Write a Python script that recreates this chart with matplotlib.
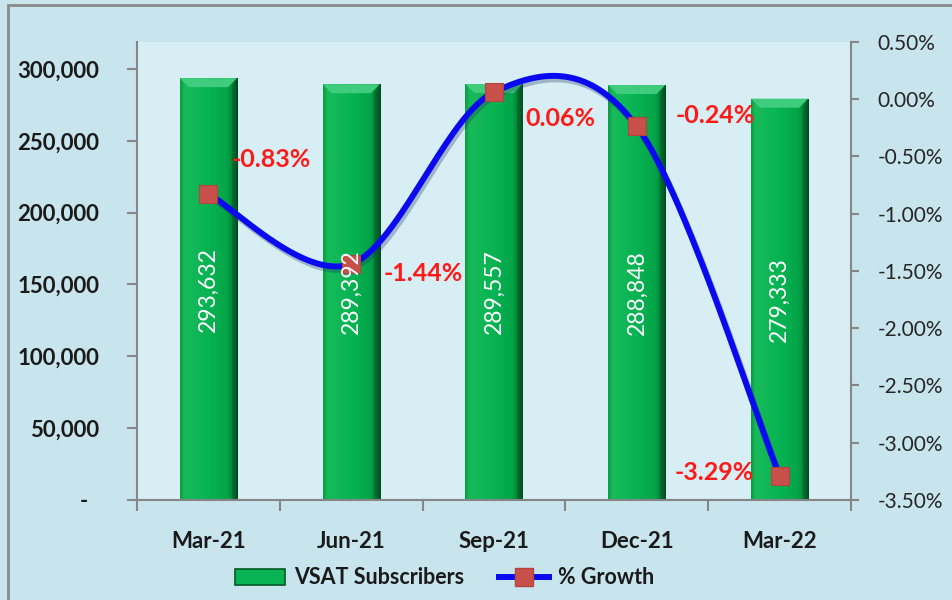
import numpy as np
import matplotlib.pyplot as plt
import matplotlib.patheffects as pe
from matplotlib.colors import LinearSegmentedColormap
from matplotlib.patches import Patch, Polygon, Rectangle
from matplotlib.lines import Line2D
from matplotlib.ticker import FixedLocator, FuncFormatter

plt.rcParams['font.family'] = ['Lato', 'DejaVu Sans']

# data
quarters = ['Mar-21', 'Jun-21', 'Sep-21', 'Dec-21', 'Mar-22']
subscribers = [293632, 289392, 289557, 288848, 279333]
growth = [-0.83, -1.44, 0.06, -0.24, -3.29]
growth_labels = ['-0.83%', '-1.44%', '0.06%', '-0.24%', '-3.29%']

# label offsets (pixels) from each marker
label_offsets = [(63, 35), (72, -10), (66, -26), (78, 11), (-65, 3)]


def smooth_curve(xs, ys, n=60):
    # Excel-style smoothed line: Catmull-Rom segments as cubic Bezier curves
    pts = np.column_stack([xs, ys]).astype(float)
    ext = np.vstack([pts[0], pts, pts[-1]])
    out = []
    for i in range(len(pts) - 1):
        p0, p1, p2, p3 = ext[i], ext[i + 1], ext[i + 2], ext[i + 3]
        c1 = p1 + (p2 - p0) / 6.0
        c2 = p2 - (p3 - p1) / 6.0
        t = np.linspace(0, 1, n)[:, None]
        seg = ((1 - t) ** 3) * p1 + 3 * ((1 - t) ** 2) * t * c1 + 3 * (1 - t) * t ** 2 * c2 + t ** 3 * p2
        out.append(seg if i == 0 else seg[1:])
    out = np.vstack(out)
    return out[:, 0], out[:, 1]


fig = plt.figure(figsize=(9.52, 6.0), dpi=100, facecolor='#c8e5ed')
ax = fig.add_axes([137 / 952, 100 / 600, 714 / 952, 458.3 / 600])
ax.set_facecolor('#d6eef4')
ax2 = ax.twinx()

# outer chart border (left and top visible)
fig.patches.append(Rectangle((8 / 952, -0.1), 1.2, (595 / 600) + 0.1, transform=fig.transFigure,
                             fill=False, edgecolor='#8a8a8a', linewidth=2.0, zorder=0))

x = np.arange(len(quarters))
bar_w = 0.4
bars = ax.bar(x, subscribers, width=bar_w, color='#00b050', edgecolor='none', zorder=2)

ymax_left = 319000
ax.set_xlim(-0.5, len(quarters) - 0.5)
ax.set_ylim(0, ymax_left)

grad_cmap = LinearSegmentedColormap.from_list('bar', [
    (0.0, '#0a9a42'), (0.08, '#18bb5a'), (0.5, '#07b352'), (0.82, '#02a448'),
    (0.93, '#017a33'), (1.0, '#03401a')])
grad = np.linspace(0, 1, 256).reshape(1, -1)
px_y = ymax_left / 458.3
px_x = 1.0 / 142.8
for b in bars:
    x0, w, h = b.get_x(), b.get_width(), b.get_height()
    im = ax.imshow(grad, extent=[x0, x0 + w, 0, h], aspect='auto', cmap=grad_cmap,
                   zorder=2.1, interpolation='bicubic')
    im.set_clip_path(b)
    dx, dy = 9 * px_x, 9 * px_y
    ax.add_patch(Polygon([(x0, h), (x0 + w, h), (x0 + w - dx, h - dy), (x0 + dx, h - dy)],
                         closed=True, facecolor='#3fcc7c', edgecolor='none', zorder=2.2))
    ax.add_patch(Polygon([(x0 + w, h), (x0 + w, 0), (x0 + w - dx * 0.6, 0), (x0 + w - dx * 0.6, h - dy)],
                         closed=True, facecolor='#045a24', edgecolor='none', alpha=0.55, zorder=2.2))
ax.set_xlim(-0.5, len(quarters) - 0.5)
ax.set_ylim(0, ymax_left)

# growth line
sx, sy = smooth_curve(x, growth)
ax2.plot(sx, sy, color='#0a0af0', linewidth=4.3, solid_capstyle='round', zorder=3,
         path_effects=[pe.SimpleLineShadow(offset=(1.5, -2.5), shadow_color='#203060', alpha=0.3),
                       pe.Normal()])
ax2.plot(x, growth, linestyle='none', marker='s', markersize=13.5, markerfacecolor='#c8504b',
         markeredgecolor='#b04540', markeredgewidth=0.8, zorder=4)
ax2.set_ylim(-3.5, 0.5)

for xi, g, lab, off in zip(x, growth, growth_labels, label_offsets):
    ax2.annotate(lab, (xi, g), xytext=(off[0] * 0.72, off[1] * 0.72), textcoords='offset points',
                 ha='center', va='center', fontsize=18, fontweight='bold', color='#ff1a1a', zorder=6)

# bar value labels on top of everything
for xi, v in zip(x, subscribers):
    ax2.text(xi, v / 2, f'{v:,}', transform=ax.transData, rotation=90, ha='center', va='center',
             fontsize=16.5, color='white', zorder=7)

# axes styling
axis_col = '#868686'
for a in (ax, ax2):
    for s in a.spines.values():
        s.set_visible(False)
ax.spines['left'].set_visible(True)
ax.spines['bottom'].set_visible(True)
ax2.spines['right'].set_visible(True)
for s in (ax.spines['left'], ax.spines['bottom'], ax2.spines['right']):
    s.set_color(axis_col)
    s.set_linewidth(1.5)

ax.set_yticks(np.arange(0, 300001, 50000))
ax.yaxis.set_major_formatter(FuncFormatter(lambda v, p: f'{int(v):,}' if v > 0 else '-  '))
ax.tick_params(axis='y', direction='out', length=7, width=1.5, color=axis_col, pad=20,
               labelsize=16, labelcolor='#1a1a1a')
for t in ax.get_yticklabels():
    t.set_fontweight('bold')

ax.xaxis.set_major_locator(FixedLocator(np.arange(-0.5, len(quarters))))
ax.xaxis.set_minor_locator(FixedLocator(x))
ax.set_xticklabels([''] * (len(quarters) + 1))
ax.set_xticklabels(quarters, minor=True)
ax.tick_params(axis='x', which='major', direction='out', length=8, width=1.5, color=axis_col)
ax.tick_params(axis='x', which='minor', length=0, pad=22, labelsize=16, labelcolor='#1a1a1a')
for t in ax.get_xticklabels(minor=True):
    t.set_fontweight('bold')

ax2.set_yticks(np.arange(-3.5, 0.51, 0.5))
ax2.yaxis.set_major_formatter(FuncFormatter(lambda v, p: f'{v:.2f}%'))
ax2.tick_params(axis='y', direction='out', length=6, width=1.5, color=axis_col, pad=13,
                labelsize=15, labelcolor='#262626')

# legend
handles = [Patch(facecolor='#07b352', edgecolor='#035a24', linewidth=1.2),
           Line2D([0], [0], color='#0a0af0', linewidth=4.3, marker='s', markersize=13.5,
                  markerfacecolor='#c8504b', markeredgecolor='#b04540')]
leg = fig.legend(handles, ['VSAT Subscribers', '% Growth'], loc='center', ncol=2,
                 bbox_to_anchor=(445 / 952, 1 - 578 / 600), frameon=False,
                 prop={'size': 15.5, 'weight': 'bold'}, handlelength=2.3, handletextpad=0.45,
                 columnspacing=1.6)
for t in leg.get_texts():
    t.set_color('#1a1a1a')

fig.savefig('out.png', dpi=100, facecolor=fig.get_facecolor())
